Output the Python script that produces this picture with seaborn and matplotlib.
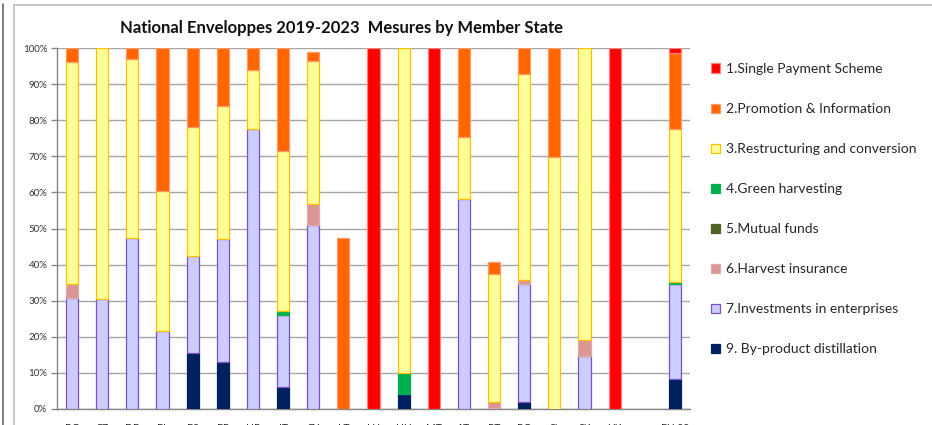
import matplotlib
matplotlib.use("Agg")
import matplotlib.pyplot as plt
from matplotlib.patches import Patch
from matplotlib.lines import Line2D
from matplotlib.ticker import FuncFormatter, MultipleLocator, FixedLocator
import numpy as np
import seaborn as sns

countries = ['BG', 'CZ', 'DE', 'EL', 'ES', 'FR', 'HR', 'IT', 'CY', 'LT', 'LU',
             'HU', 'MT', 'AT', 'PT', 'RO', 'SI', 'SK', 'UK', ' ', 'EU 28']

# shares (%) per measure
single_payment = [0, 0, 0, 0, 0, 0, 0, 0, 0, 0, 100, 0, 100, 0, 0, 0, 0, 0, 100, 0, 1.3]
promotion = [4.0, 0, 3.0, 39.5, 22.0, 16.0, 6.0, 28.6, 2.3, 47.3, 0, 0, 0, 24.7, 3.4, 7.3, 30.3, 0, 0, 0, 21.2]
restructuring = [61.5, 69.4, 49.6, 38.9, 35.5, 36.8, 16.3, 44.2, 39.6, 0, 0, 90.0, 0, 17.2, 35.4, 57.0, 69.7, 80.9, 0, 0, 42.2]
green_harvest = [0, 0, 0, 0, 0, 0, 0, 1.2, 0, 0, 0, 5.9, 0, 0, 0, 0, 0, 0, 0, 0, 0.7]
mutual_funds = [0] * 21
harvest_ins = [3.8, 0, 0, 0, 0, 0, 0, 0, 5.8, 0, 0, 0, 0, 0, 1.6, 1.1, 0, 4.5, 0, 0, 0]
investments = [30.7, 30.6, 47.4, 21.6, 27.1, 34.3, 77.7, 20.0, 51.1, 0, 0, 0, 0, 58.1, 0, 32.6, 0, 14.6, 0, 0, 26.4]
distillation = [0, 0, 0, 0, 15.4, 12.9, 0, 6.0, 0, 0, 0, 4.1, 0, 0, 0.4, 2.0, 0, 0, 0, 0, 8.2]

# bottom to top stacking order
measures = [
    ('9. By-product distillation', distillation, '#002060', '#002060'),
    ('7.Investments in enterprises', investments, '#CCCCFF', '#7B52C0'),
    ('6.Harvest insurance', harvest_ins, '#D99694', '#E0A8A6'),
    ('5.Mutual funds', mutual_funds, '#4F6228', '#4F6228'),
    ('4.Green harvesting', green_harvest, '#00B050', '#00B050'),
    ('3.Restructuring and conversion', restructuring, '#FFFF99', '#FFC000'),
    ('2.Promotion & Information', promotion, '#FF6600', '#FF9966'),
    ('1.Single Payment Scheme', single_payment, '#FF0000', '#FF8080'),
]

sns.set_style('white')
plt.rcParams['font.family'] = ['Lato', 'DejaVu Sans']

fig = plt.figure(figsize=(9.32, 4.25), dpi=100)
ax = fig.add_axes([57 / 932, 1 - 409 / 425, 633 / 932, 361 / 425])

bottom = np.zeros(len(countries))
for name, vals, fc, ec in measures:
    vals = np.array(vals, dtype=float)
    keep = vals > 0
    if keep.any():
        sns.barplot(x=[c for c, k in zip(countries, keep) if k],
                    y=vals[keep], bottom=bottom[keep], order=countries,
                    color=fc, saturation=1, errorbar=None, width=0.4,
                    edgecolor=ec, linewidth=0.9, ax=ax, zorder=3)
    bottom += vals

ax.set_ylim(0, 100)
ax.set_xlim(-0.5, len(countries) - 0.5)
ax.yaxis.set_major_locator(MultipleLocator(10))
ax.yaxis.set_major_formatter(FuncFormatter(lambda v, p: f'{v:.0f}%'))
ax.grid(axis='y', color='#A6A6A6', linewidth=1.0, zorder=0)
ax.set_axisbelow(True)
ax.set_xlabel('')
ax.set_ylabel('')

for s in ['top', 'right']:
    ax.spines[s].set_visible(False)
for s in ['left', 'bottom']:
    ax.spines[s].set_color('#868686')
    ax.spines[s].set_linewidth(1.0)

ax.xaxis.set_minor_locator(FixedLocator(np.arange(-0.5, len(countries), 1.0)))
ax.tick_params(axis='x', which='major', length=0, pad=11, labelsize=7.5,
               labelcolor='#222222')
ax.tick_params(axis='x', which='minor', length=4, color='#868686', width=1.0,
               direction='out')
ax.tick_params(axis='y', length=4, color='#868686', width=1.0, labelsize=7,
               labelcolor='#333333', pad=3, left=True)

fig.text(341 / 932, 1 - 28 / 425, 'National Enveloppes 2019-2023  Mesures by Member State',
         ha='center', va='center', fontsize=12, fontweight='bold', color='#111111')

handles = [Patch(facecolor=fc, edgecolor=ec, linewidth=0.9, label=name)
           for name, vals, fc, ec in measures[::-1]]
fig.legend(handles=handles, loc='upper left', bbox_to_anchor=(711 / 932, 1 - 63 / 425),
           frameon=False, fontsize=10, handlelength=0.65, handleheight=0.65,
           handletextpad=0.45, labelspacing=2.02, borderaxespad=0, borderpad=0)

# chart-area frame lines
fig.add_artist(Line2D([3 / 932, 3 / 932], [0, 1 - 4 / 425], color='#666666', linewidth=1.2))
fig.add_artist(Line2D([14 / 932, 14 / 932], [0, 1 - 5 / 425], color='#BFBFBF', linewidth=1.2))
fig.add_artist(Line2D([14 / 932, 1], [1 - 5 / 425, 1 - 5 / 425], color='#BFBFBF', linewidth=1.2))

fig.savefig('out.png', dpi=100)
